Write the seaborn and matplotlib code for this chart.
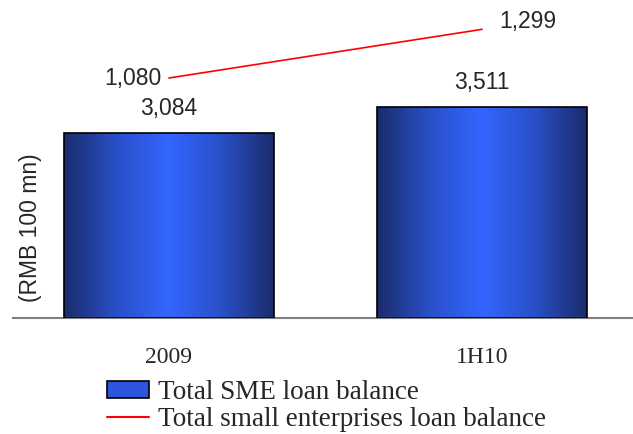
import numpy as np
import pandas as pd
import seaborn as sns
import matplotlib.pyplot as plt
from matplotlib.patches import Patch
from matplotlib.lines import Line2D
from matplotlib.colors import LinearSegmentedColormap

periods = ['2009', '1H10']
sme_loans = [3084, 3511]
small_loans = [1080, 1299]

df = pd.DataFrame({'period': periods, 'sme': sme_loans, 'small': small_loans})

sns.set_style('white')
plt.rcParams['font.family'] = ['Liberation Sans', 'DejaVu Sans']

fig = plt.figure(figsize=(6.33, 4.34), dpi=100)
ax = fig.add_axes([13 / 633, 1 - 318 / 434, 620 / 633, 318 / 434])

sns.barplot(data=df, x='period', y='sme', ax=ax, width=0.67,
            color='#3366ff', edgecolor='black', linewidth=1.2, zorder=2)

# horizontal gradient inside each bar: dark edges, bright centre
grad_cmap = LinearSegmentedColormap.from_list(
    'bar', ['#1a2c6b', '#2a50c8', '#3366ff', '#2a50c8', '#1a2c6b'])
grad = np.linspace(0, 1, 256).reshape(1, -1)
for bar in ax.patches:
    x0, y0 = bar.get_x(), bar.get_y()
    w, h = bar.get_width(), bar.get_height()
    im = ax.imshow(grad, cmap=grad_cmap, aspect='auto',
                   extent=[x0, x0 + w, y0, y0 + h], zorder=2.5)
    im.set_clip_path(bar)
    bar.set_facecolor('none')
    bar.set_zorder(3)

ax.set_xlim(-0.498, 1.482)
ax.set_ylim(0, 5300)
ax.bar_label(ax.containers[0], labels=[f'{v:,}' for v in sme_loans],
             padding=9.5, fontsize=16.5)

ax2 = ax.twinx()
sns.lineplot(x=[0, 1], y=small_loans, ax=ax2, color='red', linewidth=1.2)
ax2.set_ylim(0, 1431)
ax2.annotate(f'{small_loans[0]:,}', (0, small_loans[0]), xytext=(-5, -0.5),
             textcoords='offset points', ha='right', va='center', fontsize=16.5)
ax2.annotate(f'{small_loans[1]:,}', (1, small_loans[1]), xytext=(12.5, 5.5),
             textcoords='offset points', ha='left', va='center', fontsize=16.5)

for a in (ax, ax2):
    for s in ('top', 'right', 'left'):
        a.spines[s].set_visible(False)
    a.set_yticks([])
    a.set_ylabel('')
ax2.spines['bottom'].set_visible(False)
ax.spines['bottom'].set_color('#808080')
ax.spines['bottom'].set_linewidth(1.5)

ax.set_xlabel('')
ax.tick_params(axis='x', length=0, pad=21)
for lbl in ax.get_xticklabels():
    lbl.set_fontfamily('Liberation Serif')
    lbl.set_fontsize(17)

fig.text(31 / 633, 1 - 228 / 434, '(RMB 100 mn)', rotation=90,
         ha='center', va='center', fontsize=16.5)

handles = [Patch(facecolor='#2d55dd', edgecolor='black', linewidth=1.2),
           Line2D([0], [0], color='red', linewidth=1.5)]
fig.legend(handles, ['Total SME loan balance',
                     'Total small enterprises loan balance'],
           loc='upper left', bbox_to_anchor=(107 / 633, 1 - 380 / 434),
           frameon=False, prop={'family': 'Liberation Serif', 'size': 19.5},
           handlelength=1.55, handleheight=0.63, handletextpad=0.33,
           labelspacing=0.08, borderpad=0, borderaxespad=0)

fig.savefig('out.png', dpi=100)
